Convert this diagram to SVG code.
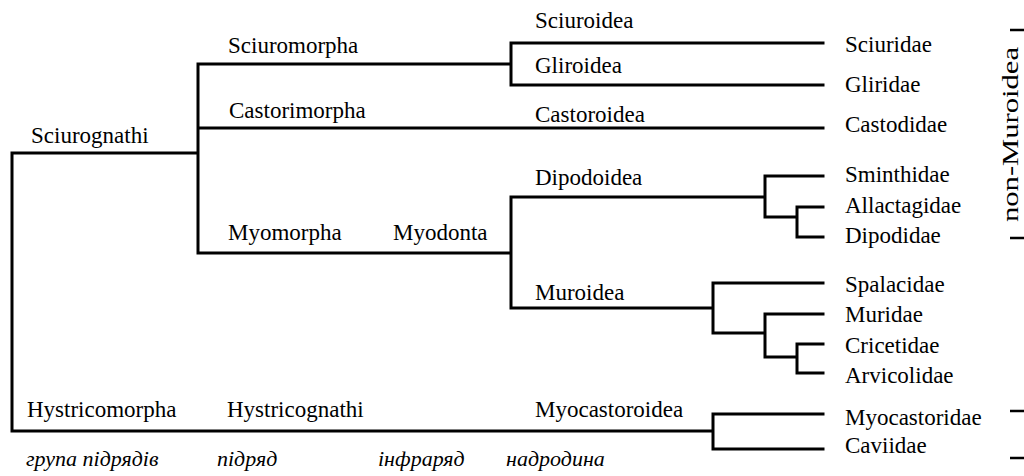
<svg xmlns="http://www.w3.org/2000/svg" width="1024" height="476" viewBox="0 0 1024 476">
<style>
.t{font-family:"Liberation Serif","Times New Roman",serif;font-size:23px;fill:#000}
.i{font-family:"Liberation Serif","Times New Roman",serif;font-size:22px;font-style:italic;fill:#000}
.ln{fill:none;stroke:#000;stroke-width:3;stroke-linecap:square}
.tk{fill:none;stroke:#000;stroke-width:2.5}
</style>
<rect width="1024" height="476" fill="#fff"/>
<g id="connectors">
<path class="ln" d="M12,431 V153 H198 M198,64 V253 M198,64 H511 M198,128 H823 M198,253 H511
M511,43 V85 M511,43 H823 M511,85 H823
M511,197 V308 M511,197 H765 M511,308 H713
M765,176 V217 M765,176 H823 M765,217 H797 M797,207 V237 M797,207 H823 M797,237 H823
M713,283 V333 M713,283 H823 M713,333 H765 M765,314 V357 M765,314 H823 M765,357 H797 M797,344 V373 M797,344 H823 M797,373 H823
M12,431 H713 M713,414 V449 M713,414 H823 M713,449 H823"/>
<path class="tk" d="M1010,30 H1024 M1010,238 H1024 M1010,411 H1024 M1010,458 H1024"/>
</g>
<g id="n-sciurognathi"><text class="t" x="31" y="143">Sciurognathi</text></g>
<g id="n-sciuromorpha"><text class="t" x="228" y="53">Sciuromorpha</text></g>
<g id="n-castorimorpha"><text class="t" x="229" y="118">Castorimorpha</text></g>
<g id="n-myomorpha"><text class="t" x="228" y="240">Myomorpha</text></g>
<g id="n-myodonta"><text class="t" x="393" y="240">Myodonta</text></g>
<g id="n-hystricomorpha"><text class="t" x="27" y="417">Hystricomorpha</text></g>
<g id="n-hystricognathi"><text class="t" x="227" y="417">Hystricognathi</text></g>
<g id="n-sciuroidea"><text class="t" x="535" y="28">Sciuroidea</text></g>
<g id="n-gliroidea"><text class="t" x="535" y="73">Gliroidea</text></g>
<g id="n-castoroidea"><text class="t" x="535" y="122">Castoroidea</text></g>
<g id="n-dipodoidea"><text class="t" x="535" y="185">Dipodoidea</text></g>
<g id="n-muroidea"><text class="t" x="535" y="300">Muroidea</text></g>
<g id="n-myocastoroidea"><text class="t" x="535" y="417">Myocastoroidea</text></g>
<g id="n-sciuridae"><text class="t" x="845" y="52">Sciuridae</text></g>
<g id="n-gliridae"><text class="t" x="845" y="92">Gliridae</text></g>
<g id="n-castodidae"><text class="t" x="845" y="132">Castodidae</text></g>
<g id="n-sminthidae"><text class="t" x="845" y="182">Sminthidae</text></g>
<g id="n-allactagidae"><text class="t" x="845" y="213">Allactagidae</text></g>
<g id="n-dipodidae"><text class="t" x="845" y="243">Dipodidae</text></g>
<g id="n-spalacidae"><text class="t" x="845" y="292">Spalacidae</text></g>
<g id="n-muridae"><text class="t" x="845" y="322">Muridae</text></g>
<g id="n-cricetidae"><text class="t" x="845" y="353">Cricetidae</text></g>
<g id="n-arvicolidae"><text class="t" x="845" y="383">Arvicolidae</text></g>
<g id="n-myocastoridae"><text class="t" x="845" y="425">Myocastoridae</text></g>
<g id="n-caviidae"><text class="t" x="845" y="453">Caviidae</text></g>
<g id="n-nonmuroidea"><text class="t" transform="translate(1018,222) rotate(-90)" textLength="175" lengthAdjust="spacingAndGlyphs" font-size="17">non-Muroidea</text></g>
<g id="ranks">
<text class="i" x="26" y="466">група  підрядів</text>
<text class="i" x="217" y="466">підряд</text>
<text class="i" x="378" y="466">інфраряд</text>
<text class="i" x="506" y="466">надродина</text>
</g>
</svg>
